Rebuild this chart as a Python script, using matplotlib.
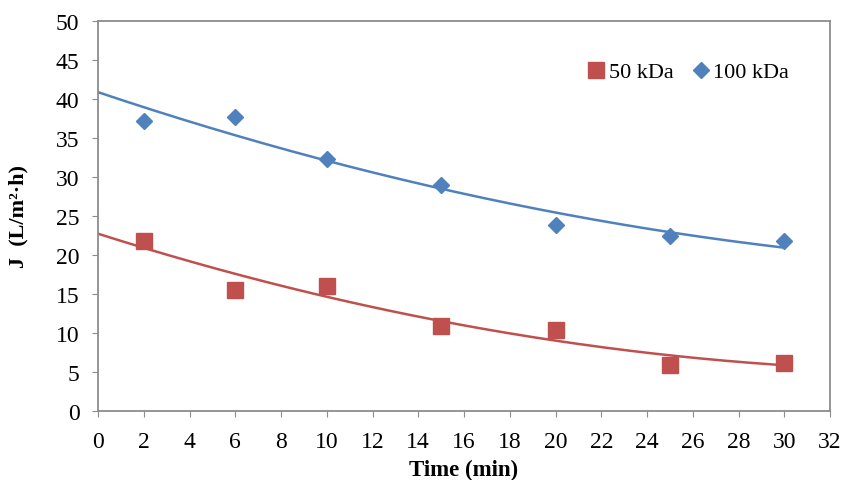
import numpy as np
import matplotlib
matplotlib.use("Agg")
from matplotlib import pyplot as plt

time_min = [2, 6, 10, 15, 20, 25, 30]
flux_50 = [21.8, 15.5, 16.0, 10.9, 10.4, 5.9, 6.2]
flux_100 = [37.2, 37.7, 32.3, 29.0, 23.8, 22.4, 21.8]

RED = "#C0504D"
BLUE = "#4F81BD"
GRAY = "#8C8C8C"

plt.rcParams["font.family"] = ["Liberation Serif", "DejaVu Serif"]

fig = plt.figure(figsize=(8.47, 4.81), dpi=100)
ax = fig.add_axes([98 / 847, 69 / 481, 732 / 847, 390 / 481])

# polynomial (order 2) trendlines fitted to the points, like excel does
xs = np.linspace(0, 30, 200)
for ys, col in [(flux_50, RED), (flux_100, BLUE)]:
    coef = np.polyfit(time_min, ys, 2)
    ax.plot(xs, np.polyval(coef, xs), color=col, lw=1.8, zorder=2)

ax.plot(time_min, flux_50, "s", color=RED, ms=11, label="50 kDa", zorder=3)
ax.plot(time_min, flux_100, "D", color=BLUE, ms=8.5, label="100 kDa", zorder=3)

ax.set_xlim(0, 32)
ax.set_ylim(0, 50)
ax.set_xticks(range(0, 33, 2))
ax.set_yticks(range(0, 51, 5))
ax.tick_params(direction="out", length=4.3, color=GRAY, labelsize=17)
ax.tick_params(axis="x", pad=10)
ax.tick_params(axis="y", pad=9)
for sp in ax.spines.values():
    sp.set_color(GRAY)
    sp.set_linewidth(1.3)

ax.set_xlabel("Time (min)", fontsize=16.5, fontweight="bold", labelpad=5)
ax.set_ylabel("J  (L/m²·h)", fontsize=16, fontweight="bold", labelpad=20)

ax.legend(loc="center left", bbox_to_anchor=(0.652, 0.869), ncol=2, frameon=False,
          fontsize=16, handlelength=0.85, handletextpad=0.15, columnspacing=0.8,
          borderpad=0)

fig.savefig("out.png", dpi=100)
